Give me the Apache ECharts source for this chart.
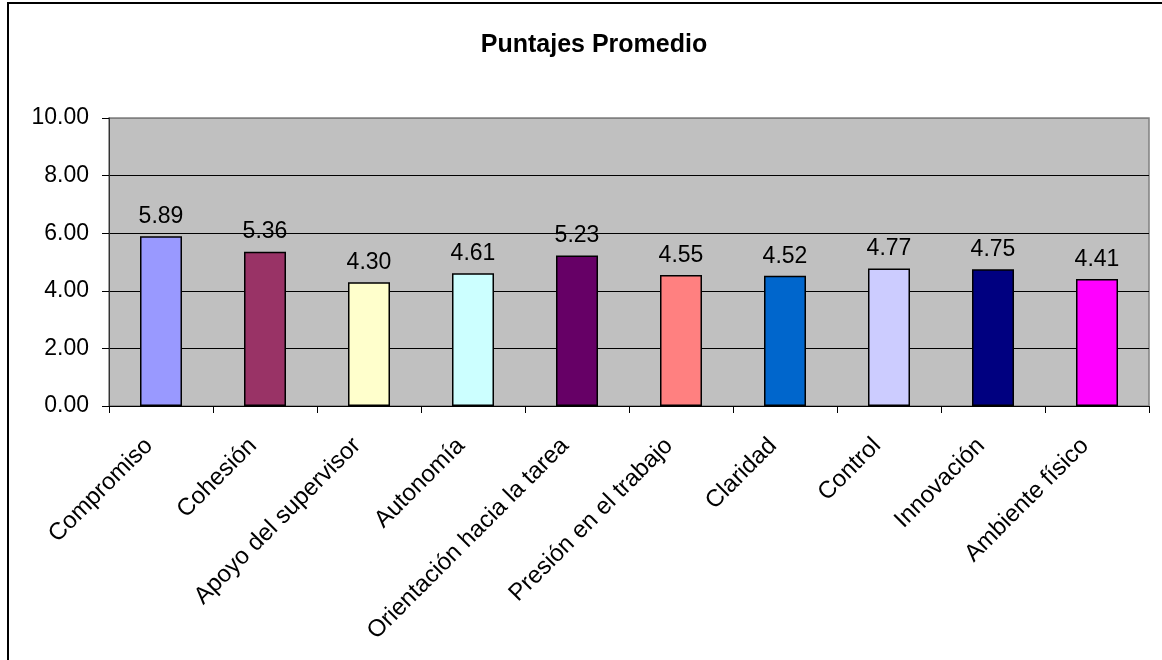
<!DOCTYPE html>
<html>
<head>
<meta charset="utf-8">
<script src="https://cdn.jsdelivr.net/npm/echarts@6/dist/echarts.min.js"></script>
<style>
  html, body { margin: 0; padding: 0; background: #fff; }
  #chart { width: 1162px; height: 660px; }
</style>
</head>
<body>
<div id="chart"></div>
<script>
// categorias y puntajes
var categories = ['Compromiso', 'Cohesión', 'Apoyo del supervisor', 'Autonomía',
  'Orientación hacia la tarea', 'Presión en el trabajo', 'Claridad', 'Control',
  'Innovación', 'Ambiente físico'];
var scores = [5.89, 5.36, 4.30, 4.61, 5.23, 4.55, 4.52, 4.77, 4.75, 4.41];
var barColors = ['#9999FF', '#993366', '#FFFFCC', '#CCFFFF', '#660066',
  '#FF8080', '#0066CC', '#CCCCFF', '#000080', '#FF00FF'];

var chart = echarts.init(document.getElementById('chart'));
var font = 'Liberation Sans, Arial, sans-serif';

chart.setOption({
  animation: false,
  title: {
    text: 'Puntajes Promedio',
    left: 589,
    top: 28,
    textAlign: 'center',
    textStyle: { fontFamily: font, fontSize: 25, fontWeight: 'bold', color: '#000' }
  },
  graphic: [{
    type: 'rect',
    shape: { x: 8, y: 3, width: 1200, height: 700 },
    style: { fill: 'none', stroke: '#000', lineWidth: 2 },
    silent: true
  }],
  grid: {
    left: 109, top: 118, right: 13, bottom: 254,
    show: true,
    backgroundColor: '#C0C0C0',
    borderColor: '#808080',
    borderWidth: 1.5
  },
  xAxis: {
    type: 'category',
    data: categories,
    axisLine: { lineStyle: { color: '#000', width: 1 } },
    axisTick: { show: true, length: 7, lineStyle: { color: '#000' } },
    axisLabel: {
      rotate: 45, margin: 24, interval: 0, padding: [0, 17, 0, 0],
      fontFamily: font, fontSize: 24, color: '#000'
    }
  },
  yAxis: {
    type: 'value',
    min: 0, max: 10, interval: 2,
    axisLine: { show: true, lineStyle: { color: '#333', width: 1 } },
    axisTick: { show: true, length: 7, lineStyle: { color: '#000' } },
    axisLabel: {
      margin: 20, fontFamily: font, fontSize: 23, color: '#000',
      formatter: function (v) { return v.toFixed(2); }
    },
    splitLine: {
      show: true,
      lineStyle: { color: ['#000', '#000', '#000', '#000', '#000', '#808080'], width: 1 }
    }
  },
  series: [{
    type: 'bar',
    barWidth: 42,
    data: scores.map(function (v, i) {
      return { value: v, itemStyle: { color: barColors[i] } };
    }),
    itemStyle: { borderColor: '#000', borderWidth: 1.5 },
    label: {
      show: true, position: 'top', distance: 8,
      fontFamily: font, fontSize: 23, color: '#000',
      formatter: function (p) { return p.value.toFixed(2); }
    }
  }]
});
</script>
</body>
</html>
